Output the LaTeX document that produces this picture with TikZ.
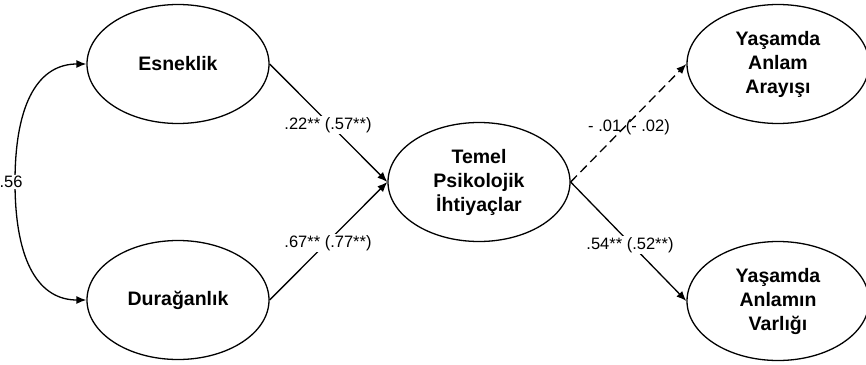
\documentclass[tikz,border=0pt]{standalone}
\usepackage{fontspec}
\setmainfont{Liberation Sans}
\usetikzlibrary{shapes.geometric,arrows.meta}
\begin{document}
\begin{tikzpicture}[x=1pt,y=-1pt,
  latent/.style={ellipse,draw,line width=1.3pt,minimum width=182pt,minimum height=119pt,inner sep=0pt,align=center,
    font=\bfseries\fontsize{19.5}{24}\selectfont},
  path/.style={line width=1.3pt,-{Latex[length=10pt,width=8pt]}},
  elabel/.style={font=\fontsize{16.5}{19}\selectfont,inner sep=1pt},
  wlabel/.style={elabel,fill=white}]
\useasboundingbox (0,0) rectangle (866,364);
\node[latent] (esn) at (178,64) {Esneklik};
\node[latent] (dur) at (178,300) {Durağanlık};
\node[latent] (tpi) at (479,182) {Temel\\Psikolojik\\İhtiyaçlar};
\node[latent] (yaa) at (778,64) {Yaşamda\\Anlam\\Arayışı};
\node[latent] (yav) at (778,301) {Yaşamda\\Anlamın\\Varlığı};
\draw[path] (esn.east) -- (tpi.west);
\draw[path] (dur.east) -- (tpi.west);
\draw[path,dash pattern=on 9pt off 5pt] (tpi.east) -- (yaa.west);
\draw[path] (tpi.east) -- (yav.west);
\draw[line width=1.3pt,{Latex[length=10pt,width=8pt]}-{Latex[length=10pt,width=8pt]}]
  (esn.west) .. controls (40,64) and (15,100) .. (15,182) .. controls (15,264) and (40,300) .. (dur.west);
\node[wlabel] (l56) at (11,182) {.56};
\node[wlabel] (l1) at (328,125) {.22** (.57**)};
\node[wlabel] (l2) at (328,243) {.67** (.77**)};
\node[elabel] (l3) at (629,127) {- .01 (- .02)};
\node[wlabel] (l4) at (630,245) {.54** (.52**)};
\end{tikzpicture}
\end{document}
